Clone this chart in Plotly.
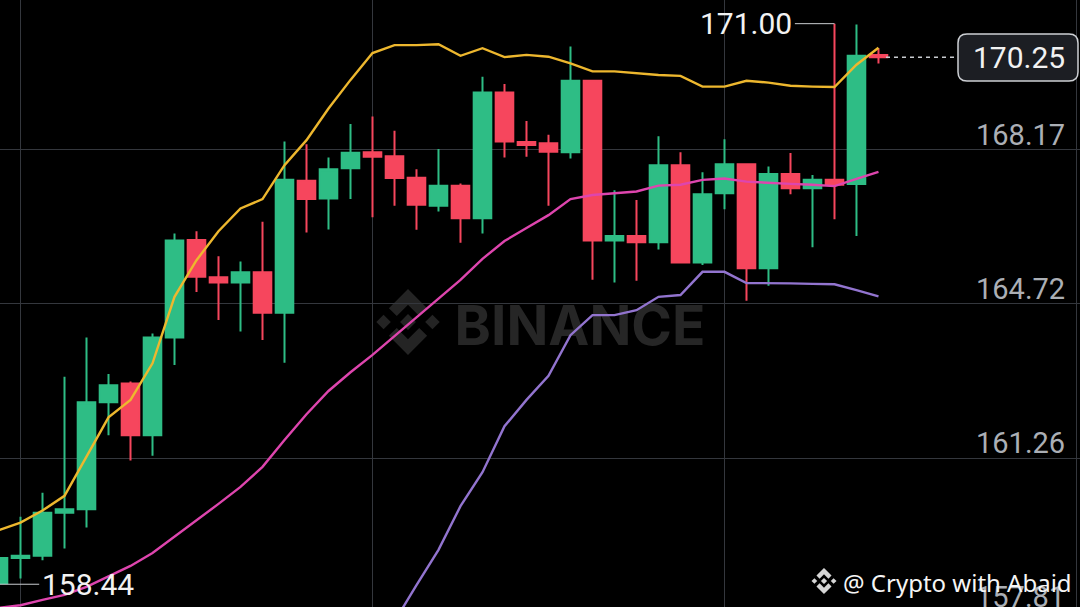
import plotly.graph_objects as go

# ---------------- data ----------------
candle_index = list(range(41))

open_prices = [158.46, 159.03, 159.08, 160.04, 160.12, 162.52, 162.94, 161.78, 163.97, 166.15,
               165.32, 165.20, 165.43, 164.52, 167.48, 167.08, 167.76, 168.12, 168.03, 167.55,
               166.92, 167.37, 166.64, 169.46, 168.35, 168.32, 168.12, 169.72, 166.14, 166.24,
               166.10, 167.83, 165.65, 167.20, 167.85, 165.52, 167.63, 167.31, 167.50, 167.41,
               170.30]
high_prices = [159.21, 159.95, 160.49, 163.09, 163.97, 163.15, 162.98, 164.06, 166.30, 166.35,
               165.79, 165.67, 166.56, 168.36, 168.30, 168.00, 168.75, 168.92, 168.60, 167.74,
               168.19, 167.42, 169.81, 169.65, 168.82, 168.51, 170.49, 169.74, 167.27, 167.05,
               168.48, 168.12, 167.67, 168.41, 167.87, 167.80, 168.10, 167.61, 171.00, 170.98,
               170.45]
low_prices = [158.44, 158.57, 158.98, 159.24, 159.71, 161.78, 161.21, 161.32, 163.35, 164.99,
              164.36, 164.10, 163.91, 163.40, 166.32, 166.39, 167.07, 166.66, 166.92, 166.38,
              166.79, 166.09, 166.30, 168.00, 168.02, 166.92, 167.98, 165.26, 165.20, 165.24,
              165.94, 165.64, 165.59, 166.84, 164.79, 165.13, 167.18, 165.99, 166.62, 166.24,
              170.11]
close_prices = [159.03, 159.08, 160.04, 160.12, 162.52, 162.90, 161.78, 163.97, 166.14, 165.33,
                165.20, 165.43, 164.52, 167.50, 167.07, 167.74, 168.11, 168.02, 167.54, 166.94,
                167.37, 166.64, 169.46, 168.36, 168.28, 168.13, 169.72, 166.14, 166.24, 166.10,
                167.83, 165.65, 167.18, 167.85, 165.52, 167.63, 167.31, 167.50, 167.39, 170.28,
                170.25]

upper_band = [159.65, 159.82, 160.09, 160.42, 161.30, 162.18, 162.57, 163.39, 164.88, 165.70,
              166.35, 166.86, 167.07, 167.83, 168.39, 169.10, 169.74, 170.34, 170.52, 170.52,
              170.54, 170.28, 170.45, 170.25, 170.30, 170.26, 170.11, 169.93, 169.93, 169.89,
              169.85, 169.83, 169.59, 169.59, 169.72, 169.68, 169.61, 169.59, 169.58, 170.08,
              170.46]
middle_band = [157.91, 157.97, 158.09, 158.20, 158.38, 158.62, 158.85, 159.14, 159.50, 159.86,
               160.24, 160.62, 161.07, 161.67, 162.25, 162.77, 163.19, 163.58, 163.99, 164.42,
               164.84, 165.26, 165.73, 166.13, 166.42, 166.71, 167.07, 167.16, 167.20, 167.24,
               167.37, 167.39, 167.50, 167.53, 167.46, 167.43, 167.41, 167.39, 167.36, 167.52,
               167.68]
lower_band = [None] * 17 + [156.79, 157.61, 158.42, 159.21, 160.19, 160.95, 161.98, 162.57,
                            163.11, 164.02, 164.47, 164.47, 164.58, 164.88, 164.92, 165.44,
                            165.44, 165.19, 165.19, 165.18, 165.17, 165.16, 165.03, 164.89]

price_levels = [168.17, 164.72, 161.26, 157.81]
price_labels = ["168.17", "164.72", "161.26", "157.81"]
time_grid = [1, 17, 33, 49]

# ---------------- style ----------------
W, H = 1080, 607
GREEN = "#2EBD85"
RED = "#F6465D"
YELLOW = "#EDB72E"
MAGENTA = "#DE45AE"
PURPLE = "#9274CF"
GRID = "#34373D"
AXIS_TXT = "#ABAFB5"
FONT = "Roboto"


def px(x):
    return x / W


def py(y):
    return 1 - y / H


fig = go.Figure()
fig.add_trace(go.Candlestick(
    x=candle_index, open=open_prices, high=high_prices, low=low_prices, close=close_prices,
    increasing=dict(line=dict(color=GREEN, width=2), fillcolor=GREEN),
    decreasing=dict(line=dict(color=RED, width=2), fillcolor=RED),
    whiskerwidth=0, hoverinfo="skip", showlegend=False,
))
for band, col in [(upper_band, YELLOW), (middle_band, MAGENTA), (lower_band, PURPLE)]:
    fig.add_trace(go.Scatter(x=candle_index, y=band, mode="lines",
                             line=dict(color=col, width=2.4),
                             hoverinfo="skip", showlegend=False))

shapes = []
annotations = []


def logo_paths(cx, cy, s, color, layer):
    """Binance-like logo built from diamonds/chevrons (pixel coords -> paper)."""
    polys = [
        [(0, -1), (0.58, -0.42), (0.34, -0.18), (0, -0.52), (-0.34, -0.18), (-0.58, -0.42)],
        [(0, 1), (0.58, 0.42), (0.34, 0.18), (0, 0.52), (-0.34, 0.18), (-0.58, 0.42)],
        [(0, -0.24), (0.24, 0), (0, 0.24), (-0.24, 0)],
        [(-0.74, -0.22), (-0.52, 0), (-0.74, 0.22), (-0.96, 0)],
        [(0.74, -0.22), (0.96, 0), (0.74, 0.22), (0.52, 0)],
    ]
    out = []
    for poly in polys:
        d = "M " + " L ".join(f"{px(cx + u * s):.5f},{py(cy + v * s):.5f}" for u, v in poly) + " Z"
        out.append(dict(type="path", path=d, xref="paper", yref="paper",
                        fillcolor=color, line=dict(width=0), layer=layer))
    return out


# Watermark
shapes += logo_paths(408, 322, 33, "#242424", "below")
shapes.append(dict(type="rect", xref="paper", yref="paper",
                   x0=px(450), x1=px(710), y0=py(350), y1=py(295),
                   line=dict(width=0), fillcolor="rgba(0,0,0,0)", layer="below",
                   label=dict(text="<b>BINANCE</b>", textposition="middle center",
                              font=dict(size=55, color="#262626", family="Inter"))))

# max / min markers
hi_val = max(high_prices)
hi_idx = high_prices.index(hi_val)
lo_val = min(low_prices)
lo_idx = low_prices.index(lo_val)
last_val = close_prices[-1]

shapes.append(dict(type="line", xref="x", yref="y", x0=hi_idx - 1.8, x1=hi_idx,
                   y0=hi_val, y1=hi_val, line=dict(color="#C9CCD0", width=1), layer="above"))
annotations.append(dict(text=f"{hi_val:.2f}", x=hi_idx - 1.85, xref="x", y=hi_val, yref="y",
                        xanchor="right", yanchor="middle", showarrow=False,
                        font=dict(size=30, color="#F2F2F2", family=FONT)))
shapes.append(dict(type="line", xref="x", yref="y", x0=lo_idx, x1=lo_idx + 1.85,
                   y0=lo_val, y1=lo_val, line=dict(color="#C9CCD0", width=1), layer="above"))
annotations.append(dict(text=f"{lo_val:.2f}", x=lo_idx + 1.9, xref="x", y=lo_val, yref="y",
                        xanchor="left", yanchor="middle", showarrow=False,
                        font=dict(size=30, color="#F2F2F2", family=FONT)))

# last price tag
shapes.append(dict(type="line", xref="paper", yref="y", x0=px(886), x1=px(957),
                   y0=last_val, y1=last_val,
                   line=dict(color="#C9CCD0", width=1.5, dash="4px,4px"), layer="above"))
x0, x1, y0, y1, r = 958, 1078, 34, 81, 9
pts = [f"M {px(x0 + r)},{py(y0)}", f"L {px(x1 - r)},{py(y0)}", f"Q {px(x1)},{py(y0)} {px(x1)},{py(y0 + r)}",
       f"L {px(x1)},{py(y1 - r)}", f"Q {px(x1)},{py(y1)} {px(x1 - r)},{py(y1)}",
       f"L {px(x0 + r)},{py(y1)}", f"Q {px(x0)},{py(y1)} {px(x0)},{py(y1 - r)}",
       f"L {px(x0)},{py(y0 + r)}", f"Q {px(x0)},{py(y0)} {px(x0 + r)},{py(y0)}", "Z"]
shapes.append(dict(type="path", path=" ".join(pts), xref="paper", yref="paper",
                   fillcolor="#1C1E23", line=dict(color="#CDD0D4", width=1.5), layer="above"))
annotations.append(dict(text=f"{last_val:.2f}", x=px(1019), xref="paper", y=last_val, yref="y",
                        xanchor="center", yanchor="middle", showarrow=False,
                        font=dict(size=30, color="#F2F2F2", family=FONT)))

# price axis labels (above gridlines)
for lvl, lab in zip(price_levels, price_labels):
    if lvl >= 157.93:
        annotations.append(dict(text=lab, x=px(1067), xref="paper", y=lvl, yref="y",
                                xanchor="right", yanchor="middle", yshift=15, showarrow=False,
                                font=dict(size=29, color=AXIS_TXT, family=FONT)))
    else:
        annotations.append(dict(text=lab, x=px(1067), xref="paper", y=0, yref="paper",
                                xanchor="right", yanchor="middle", yshift=10, showarrow=False,
                                font=dict(size=29, color=AXIS_TXT, family=FONT)))

# credit watermark
shapes += logo_paths(824, 581, 13, "#D6D6D6", "above")
annotations.append(dict(text="@ Crypto with Abaid", x=px(841), xref="paper", y=py(582), yref="paper",
                        xanchor="left", yanchor="middle", showarrow=False,
                        font=dict(size=24, color="#F5F5F5", family="Noto Sans")))

fig.update_layout(
    width=W, height=H, margin=dict(l=0, r=0, t=0, b=0),
    paper_bgcolor="#000000", plot_bgcolor="#000000",
    boxgap=0.2, boxgroupgap=0,
    showlegend=False, hovermode=False,
    shapes=shapes, annotations=annotations,
    xaxis=dict(range=[0.068, 49.16], tickvals=time_grid, showticklabels=False,
               showgrid=True, gridcolor=GRID, gridwidth=1, zeroline=False, showline=False,
               rangeslider=dict(visible=False), fixedrange=True),
    yaxis=dict(range=[157.93, 171.53], tickvals=price_levels, showticklabels=False,
               showgrid=True, gridcolor=GRID, gridwidth=1, zeroline=False, showline=False,
               fixedrange=True),
)

fig.write_html("out.html",
               post_script="document.body.style.margin='0';document.body.style.background='#000';",
               config={"displayModeBar": False})
